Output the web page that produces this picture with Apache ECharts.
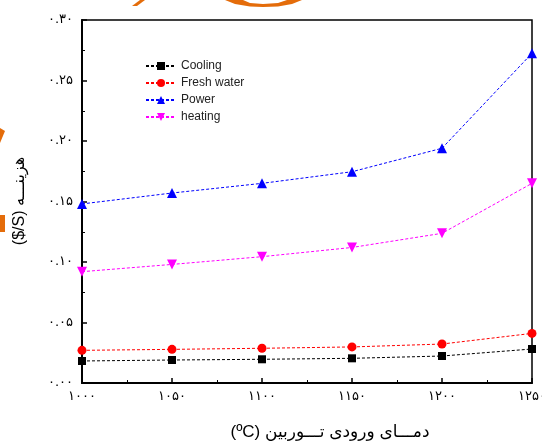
<!DOCTYPE html>
<html>
<head>
<meta charset="utf-8">
<script src="https://cdn.jsdelivr.net/npm/echarts@6/dist/echarts.min.js"></script>
<style>html,body{margin:0;padding:0;background:#fff}#c{width:542px;height:443px}</style>
</head>
<body>
<div id="c"></div>
<script>
// Data
var temps = [1000, 1050, 1100, 1150, 1200, 1250];
var cooling = [0.0182, 0.0190, 0.0196, 0.0204, 0.0223, 0.0281];
var freshWater = [0.0270, 0.0278, 0.0287, 0.0298, 0.0322, 0.0410];
var power = [0.148, 0.157, 0.165, 0.1746, 0.194, 0.2725];
var heating = [0.092, 0.098, 0.1044, 0.112, 0.1237, 0.165];
var seriesNames = ['Cooling', 'Fresh water', 'Power', 'heating'];
var xTitle = '(ºC) دمـــای ورودی تـــوربین';
var yTitle = '($/S) هزینـــه';

var fa = '۰۱۲۳۴۵۶۷۸۹';
function toFa(s) { return String(s).replace(/[0-9]/g, function (d) { return fa[+d]; }); }
function pairs(vals) { return temps.map(function (t, i) { return [t, vals[i]]; }); }

var FONT = 'Liberation Sans, Arial, DejaVu Sans, sans-serif';
var dash = [3, 2];
function mk(name, vals, color, symbol, size, rot) {
  return {
    name: name, type: 'line', data: pairs(vals),
    symbol: symbol, symbolSize: size, symbolRotate: rot || 0,
    itemStyle: { color: color },
    lineStyle: { color: color, width: 1, type: dash },
    z: 3
  };
}

var chart = echarts.init(document.getElementById('c'));
chart.setOption({
  animation: false,
  backgroundColor: '#fff',
  grid: { left: 82, right: 10, top: 20, bottom: 60, outerBoundsMode: 'none', containLabel: false, show: true, borderColor: '#000', borderWidth: 1.5, backgroundColor: 'transparent' },
  legend: {
    orient: 'vertical', left: 140, top: 55,
    itemWidth: 30, itemHeight: 10, itemGap: 5,
    textStyle: { fontFamily: FONT, fontSize: 12, color: '#222' },
    data: seriesNames
  },
  xAxis: {
    type: 'value', min: 1000, max: 1250, interval: 50,
    axisLine: { lineStyle: { color: '#000', width: 2 } },
    axisTick: { inside: true, length: 5, lineStyle: { color: '#000', width: 1.5 } },
    minorTick: { show: true, splitNumber: 2, length: 3, lineStyle: { color: '#000', width: 1 } },
    splitLine: { show: false },
    axisLabel: { margin: 7, fontFamily: 'DejaVu Sans, sans-serif', fontSize: 13, color: '#000', formatter: function (v) { return toFa(v); } }
  },
  yAxis: {
    type: 'value', min: 0, max: 0.30, interval: 0.05,
    axisLine: { show: true, lineStyle: { color: '#000', width: 2 } },
    axisTick: { show: true, inside: true, length: 5, lineStyle: { color: '#000', width: 1.5 } },
    minorTick: { show: true, splitNumber: 2, length: 3, lineStyle: { color: '#000', width: 1 } },
    splitLine: { show: false },
    axisLabel: { margin: 9, fontFamily: 'DejaVu Sans, sans-serif', fontSize: 13, color: '#000', formatter: function (v) { return toFa(v.toFixed(2)); } }
  },
  graphic: [
    { type: 'text', x: 330, y: 432, style: { text: xTitle, x: 0, y: 0, align: 'center', verticalAlign: 'middle', font: '17px ' + FONT, fill: '#000' } },
    { type: 'text', x: 20, y: 201, rotation: Math.PI / 2, style: { text: yTitle, x: 0, y: 0, align: 'center', verticalAlign: 'middle', font: '16px ' + FONT, fill: '#000' } },
    { type: 'polygon', shape: { points: [[132, 6], [137, 6], [145, 0], [140, 0]] }, style: { fill: '#E46C0A' } },
    { type: 'polygon', shape: { points: [[225, 0], [235, 4], [250, 6.5], [263, 7], [278, 6.5], [292, 4], [302, 0], [287, 0], [278, 3], [263, 4], [250, 3], [243, 0]] }, style: { fill: '#E46C0A' } },
    { type: 'polygon', shape: { points: [[0, 128], [5, 131], [0, 143]] }, style: { fill: '#E46C0A' } },
    { type: 'rect', shape: { x: 0, y: 215, width: 5, height: 17 }, style: { fill: '#E46C0A' } }
  ],
  series: [
    mk(seriesNames[0], cooling, '#000000', 'rect', 8),
    mk(seriesNames[1], freshWater, '#ff0000', 'circle', 9),
    mk(seriesNames[2], power, '#0000ff', 'triangle', 10),
    mk(seriesNames[3], heating, '#ff00ff', 'triangle', 10, 180)
  ]
});
</script>
</body>
</html>
